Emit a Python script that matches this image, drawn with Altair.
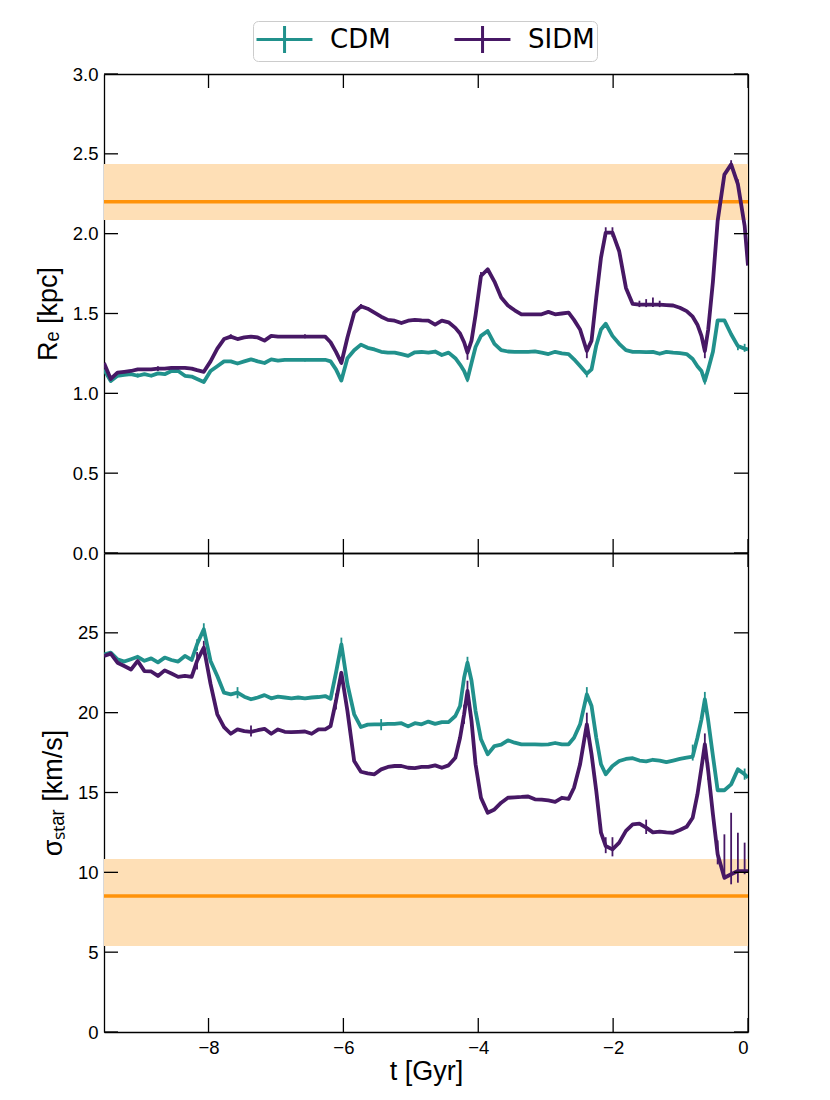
import altair as alt
import pandas as pd

# ---------------- data ----------------
t_gyr = [
    -9.55, -9.45, -9.35, -9.25, -9.15, -9.05, -8.95, -8.85,
    -8.75, -8.65, -8.55, -8.45, -8.35, -8.25, -8.17, -8.07,
    -7.97, -7.87, -7.77, -7.67, -7.57, -7.47, -7.37, -7.27,
    -7.17, -7.07, -6.97, -6.87, -6.77, -6.67, -6.57, -6.47,
    -6.37, -6.27, -6.19, -6.11, -6.03, -5.94, -5.84, -5.74,
    -5.64, -5.54, -5.44, -5.34, -5.24, -5.14, -5.04, -4.94,
    -4.84, -4.74, -4.64, -4.54, -4.44, -4.34, -4.27, -4.21,
    -4.16, -4.10, -4.04, -3.96, -3.86, -3.76, -3.66, -3.56,
    -3.46, -3.36, -3.26, -3.16, -3.06, -2.96, -2.86, -2.76,
    -2.66, -2.58, -2.49, -2.39, -2.32, -2.25, -2.18, -2.11,
    -2.01, -1.91, -1.81, -1.71, -1.61, -1.51, -1.41, -1.31,
    -1.21, -1.11, -1.01, -0.91, -0.82, -0.75, -0.69, -0.64,
    -0.59, -0.52, -0.45, -0.35, -0.25, -0.15, -0.05, 0.00,
]

re_sidm = [
    1.19, 1.09, 1.13, 1.135, 1.14, 1.15, 1.15, 1.15,
    1.155, 1.155, 1.16, 1.16, 1.16, 1.155, 1.145, 1.135,
    1.20, 1.28, 1.34, 1.355, 1.34, 1.35, 1.355, 1.35,
    1.33, 1.36, 1.355, 1.355, 1.355, 1.355, 1.355, 1.355,
    1.355, 1.355, 1.32, 1.26, 1.19, 1.35, 1.505, 1.545,
    1.53, 1.505, 1.48, 1.46, 1.455, 1.44, 1.455, 1.46,
    1.457, 1.455, 1.43, 1.455, 1.445, 1.41, 1.375, 1.32,
    1.255, 1.33, 1.49, 1.735, 1.777, 1.70, 1.60, 1.55,
    1.52, 1.495, 1.495, 1.495, 1.495, 1.51, 1.495, 1.50,
    1.505, 1.46, 1.40, 1.265, 1.33, 1.60, 1.85, 2.006,
    2.006, 1.89, 1.66, 1.56, 1.555, 1.555, 1.555, 1.555,
    1.553, 1.55, 1.536, 1.515, 1.48, 1.43, 1.36, 1.265,
    1.40, 1.70, 2.08, 2.37, 2.434, 2.31, 2.05, 1.80,
]

re_cdm = [
    1.15, 1.077, 1.11, 1.115, 1.12, 1.11, 1.12, 1.11,
    1.125, 1.12, 1.14, 1.14, 1.11, 1.105, 1.09, 1.071,
    1.14, 1.17, 1.20, 1.20, 1.187, 1.20, 1.213, 1.20,
    1.19, 1.213, 1.205, 1.21, 1.21, 1.21, 1.21, 1.21,
    1.21, 1.21, 1.20, 1.15, 1.08, 1.22, 1.27, 1.305,
    1.285, 1.275, 1.26, 1.255, 1.255, 1.245, 1.235, 1.257,
    1.259, 1.255, 1.262, 1.24, 1.255, 1.22, 1.18, 1.14,
    1.088, 1.19, 1.29, 1.36, 1.39, 1.31, 1.27, 1.262,
    1.26, 1.26, 1.26, 1.263, 1.255, 1.246, 1.26, 1.25,
    1.245, 1.213, 1.171, 1.123, 1.15, 1.30, 1.40, 1.436,
    1.36, 1.31, 1.27, 1.26, 1.26, 1.258, 1.26, 1.248,
    1.26, 1.255, 1.252, 1.246, 1.215, 1.17, 1.14, 1.077,
    1.15, 1.26, 1.457, 1.457, 1.37, 1.296, 1.28, 1.275,
]

sig_cdm = [
    23.65, 23.76, 23.34, 23.2, 23.35, 23.5, 23.25, 23.4,
    23.15, 23.45, 23.3, 23.2, 23.55, 23.3, 24.28, 25.22,
    23.24, 22.3, 21.25, 21.15, 21.25, 21.0, 20.84, 20.95,
    21.1, 20.9, 21.0, 20.95, 20.9, 20.95, 20.9, 20.95,
    20.98, 21.04, 20.87, 22.5, 24.28, 21.78, 19.9, 19.1,
    19.25, 19.27, 19.27, 19.3, 19.3, 19.34, 19.14, 19.34,
    19.27, 19.44, 19.3, 19.41, 19.41, 19.79, 20.42, 22.19,
    23.13, 22.0, 20.1, 18.33, 17.39, 17.91, 18.0, 18.27,
    18.12, 18.02, 18.02, 18.02, 18.0, 18.02, 18.1, 18.02,
    18.02, 18.43, 19.27, 21.15, 20.42, 18.43, 16.77, 16.14,
    16.66, 16.97, 17.1, 17.15, 17.0, 16.95, 17.05, 17.0,
    16.9, 17.0, 17.1, 17.18, 17.25, 18.43, 19.58, 20.84,
    19.5, 17.29, 15.14, 15.14, 15.51, 16.45, 16.14, 15.93,
]

sig_sidm = [
    23.55, 23.7, 23.13, 22.92, 22.7, 23.24, 22.6, 22.58,
    22.3, 22.65, 22.45, 22.24, 22.3, 22.24, 23.24, 24.07,
    21.8, 19.9, 19.1, 18.68, 18.95, 18.84, 18.8, 18.9,
    18.99, 18.68, 18.95, 18.8, 18.78, 18.8, 18.82, 18.68,
    18.95, 18.95, 19.16, 20.73, 22.5, 20.1, 16.97, 16.3,
    16.2, 16.14, 16.45, 16.6, 16.66, 16.66, 16.55, 16.53,
    16.6, 16.6, 16.7, 16.55, 16.7, 17.18, 18.43, 19.9,
    21.36, 19.48, 16.77, 14.67, 13.73, 13.94, 14.36, 14.67,
    14.7, 14.72, 14.75, 14.57, 14.55, 14.5, 14.42, 14.67,
    14.6, 15.3, 16.77, 19.27, 17.39, 15.09, 12.48, 11.65,
    11.44, 11.86, 12.6, 13.0, 13.05, 12.8, 12.5, 12.55,
    12.5, 12.48, 12.65, 12.85, 13.42, 14.88, 16.55, 18.02,
    16.35, 13.63, 11.13, 9.66, 9.88, 10.08, 10.08, 10.08,
]

# visible error bars (time, low, high)
re_sidm_bar_t = [-8.75, -7.67, -6.57, -5.74, -4.16, -3.96, -2.39, -2.11, -2.01,
                 -1.61, -1.51, -1.41, -1.31, -0.64, -0.25, -0.15]
re_sidm_bar_lo = [1.14, 1.34, 1.345, 1.53, 1.21, 1.71, 1.22, 1.98, 1.98,
                  1.54, 1.54, 1.54, 1.54, 1.22, 2.41, 2.28]
re_sidm_bar_hi = [1.17, 1.37, 1.37, 1.56, 1.28, 1.76, 1.29, 2.04, 2.04,
                  1.58, 1.59, 1.60, 1.58, 1.29, 2.46, 2.34]

re_cdm_bar_t = [-9.05, -8.45, -6.57, -4.16, -3.86, -2.39, -0.64, -0.15, -0.05]
re_cdm_bar_lo = [1.10, 1.13, 1.20, 1.07, 1.37, 1.10, 1.055, 1.27, 1.26]
re_cdm_bar_hi = [1.125, 1.15, 1.22, 1.11, 1.40, 1.14, 1.09, 1.31, 1.31]

sig_cdm_bar_t = [-8.17, -8.07, -7.57, -6.03, -5.44, -4.16, -2.39, -0.82, -0.64, -0.05]
sig_cdm_bar_lo = [23.9, 24.8, 20.9, 23.8, 18.9, 22.7, 20.7, 17.0, 20.3, 15.8]
sig_cdm_bar_hi = [24.6, 25.6, 21.6, 24.7, 19.6, 23.5, 21.6, 18.0, 21.3, 16.5]

sig_sidm_bar_t = [-8.17, -8.07, -7.37, -6.11, -4.21, -4.16, -2.39, -2.11, -2.01,
                  -1.51, -0.64, -0.59, -0.45, -0.35, -0.25, -0.15, -0.05]
sig_sidm_bar_lo = [22.7, 23.6, 18.5, 20.2, 19.3, 20.7, 18.6, 11.2, 11.0,
                   12.4, 17.3, 15.8, 10.5, 9.56, 9.25, 9.35, 9.88]
sig_sidm_bar_hi = [23.8, 24.5, 19.2, 21.2, 20.5, 22.0, 20.0, 12.2, 12.2,
                   13.3, 18.7, 16.9, 12.0, 12.38, 13.73, 12.48, 11.86]

# observed values with their ranges
re_obs = [2.20]
re_obs_lo = [2.086]
re_obs_hi = [2.436]
sig_obs = [8.52]
sig_obs_lo = [5.39]
sig_obs_hi = [10.83]

models = ["CDM", "SIDM"]
re_ticks = [0.0, 0.5, 1.0, 1.5, 2.0, 2.5, 3.0]
sig_ticks = [0, 5, 10, 15, 20, 25]
t_ticks = [-8, -6, -4, -2, 0]

# ---------------- style ----------------
W, H = 644, 479
TICK = 14
TEAL = "#21918c"
PURPLE = "#471865"
ORANGE = "#ff930a"
BAND = "#fedfb6"
FONT = "DejaVu Sans"

color_scale = alt.Scale(domain=models, range=[TEAL, PURPLE])
legend = alt.Legend(
    title=None, orient="none", legendX=149, legendY=-53, direction="horizontal",
    symbolType="M-1,0L2.73,0M0.87,-0.9L0.87,0.9", symbolSize=900,
    symbolStrokeWidth=3, labelFontSize=26, labelFont=FONT, labelColor="black",
    labelOffset=42, columnPadding=57, padding=2, strokeColor="#cccccc",
    fillColor="white", cornerRadius=5, labelLimit=400,
)
x_scale = alt.Scale(domain=[-9.55, 0.0], nice=False, zero=False)

SPINE = dict(domain=True, domainColor="black", domainWidth=1.3, grid=False)


def panel(cdm, sidm, bars, obs, obs_lo, obs_hi, ydomain, yticks, yfmt, ytitle,
          show_x):
    n = len(t_gyr)
    lines_df = pd.DataFrame({"t": t_gyr + t_gyr, "v": cdm + sidm,
                             "model": ["CDM"] * n + ["SIDM"] * n})
    rows = []
    for model, (bt, blo, bhi) in zip(models, bars):
        for a, b, c in zip(bt, blo, bhi):
            rows.append({"t": a, "lo": b, "hi": c, "model": model})
    bars_df = pd.DataFrame(rows)
    obs_df = pd.DataFrame({"obs": obs, "lo": obs_lo, "hi": obs_hi})
    yt_df = pd.DataFrame({"v": yticks})
    xt_df = pd.DataFrame({"t": t_ticks})

    y_scale = alt.Scale(domain=ydomain, nice=False, zero=False)

    # left spine with labels and title
    y_left = alt.Axis(orient="left", values=yticks, format=yfmt, ticks=False,
                      tickSize=0, labelPadding=6, labelFontSize=18.5,
                      title=ytitle, titleFontSize=27, titleFontWeight="normal",
                      titlePadding=10, **SPINE)
    # right spine only
    y_right = alt.Axis(orient="right", values=yticks, ticks=False, tickSize=0,
                       labels=False, title=None, **SPINE)
    # bottom spine (with labels and title only on the lower panel)
    if show_x:
        x_bottom = alt.Axis(orient="bottom", values=t_ticks, format="d",
                            ticks=False, tickSize=0, labelPadding=6,
                            labelFontSize=18.5, title="t [Gyr]",
                            titleFontSize=27, titleFontWeight="normal",
                            titlePadding=2, **SPINE)
    else:
        x_bottom = alt.Axis(orient="bottom", values=t_ticks, ticks=False,
                            tickSize=0, labels=False, title=None, **SPINE)
    # top spine only
    x_top = alt.Axis(orient="top", values=t_ticks, ticks=False, tickSize=0,
                     labels=False, title=None, **SPINE)

    band = alt.Chart(obs_df).mark_rect(color=BAND).encode(
        x=alt.value(0), x2=alt.value(W),
        y=alt.Y("lo:Q", scale=y_scale, axis=y_left), y2="hi:Q")
    rule = alt.Chart(obs_df).mark_rule(color=ORANGE, strokeWidth=3.5).encode(
        x=alt.value(0), x2=alt.value(W),
        y=alt.Y("obs:Q", scale=y_scale, axis=y_right))
    errs = alt.Chart(bars_df).mark_rule(strokeWidth=1.8, clip=True).encode(
        x=alt.X("t:Q", scale=x_scale, axis=x_top),
        y=alt.Y("lo:Q", scale=y_scale, axis=None), y2="hi:Q",
        color=alt.Color("model:N", scale=color_scale, legend=legend))
    lines = alt.Chart(lines_df).mark_line(
        strokeWidth=3.8, strokeJoin="round", clip=True).encode(
        x=alt.X("t:Q", scale=x_scale, axis=x_bottom),
        y=alt.Y("v:Q", scale=y_scale, axis=None),
        color=alt.Color("model:N", scale=color_scale, legend=legend))

    tick_style = dict(color="black", strokeWidth=1.3)
    left_ticks = alt.Chart(yt_df).mark_rule(**tick_style).encode(
        y=alt.Y("v:Q", scale=y_scale, axis=None),
        x=alt.value(0), x2=alt.value(TICK))
    right_ticks = alt.Chart(yt_df).mark_rule(**tick_style).encode(
        y=alt.Y("v:Q", scale=y_scale, axis=None),
        x=alt.value(W - TICK), x2=alt.value(W))
    bottom_ticks = alt.Chart(xt_df).mark_rule(**tick_style).encode(
        x=alt.X("t:Q", scale=x_scale, axis=None),
        y=alt.value(H - TICK), y2=alt.value(H))
    top_ticks = alt.Chart(xt_df).mark_rule(**tick_style).encode(
        x=alt.X("t:Q", scale=x_scale, axis=None),
        y=alt.value(0), y2=alt.value(TICK))

    return alt.layer(band, rule, errs, lines, left_ticks, right_ticks,
                     bottom_ticks, top_ticks).resolve_axis(
        x="independent", y="independent").properties(width=W, height=H)


top = panel(re_cdm, re_sidm,
            [(re_cdm_bar_t, re_cdm_bar_lo, re_cdm_bar_hi),
             (re_sidm_bar_t, re_sidm_bar_lo, re_sidm_bar_hi)],
            re_obs, re_obs_lo, re_obs_hi, [0, 3], re_ticks, ".1f",
            "Rₑ [kpc]", False)
bottom = panel(sig_cdm, sig_sidm,
               [(sig_cdm_bar_t, sig_cdm_bar_lo, sig_cdm_bar_hi),
                (sig_sidm_bar_t, sig_sidm_bar_lo, sig_sidm_bar_hi)],
               sig_obs, sig_obs_lo, sig_obs_hi, [0, 30], sig_ticks, "d",
               "σₛₜₐᵣ [km/s]", True)

chart = alt.vconcat(top, bottom, spacing=0, bounds="flush").properties(
    padding={"left": 25, "top": 12, "right": 5, "bottom": 5}
).configure_view(strokeWidth=0).configure_axis(
    labelFont=FONT, titleFont=FONT, labelColor="black", titleColor="black"
).configure(background="white")

chart.save("out.html", embed_options={"renderer": "svg", "actions": False})
